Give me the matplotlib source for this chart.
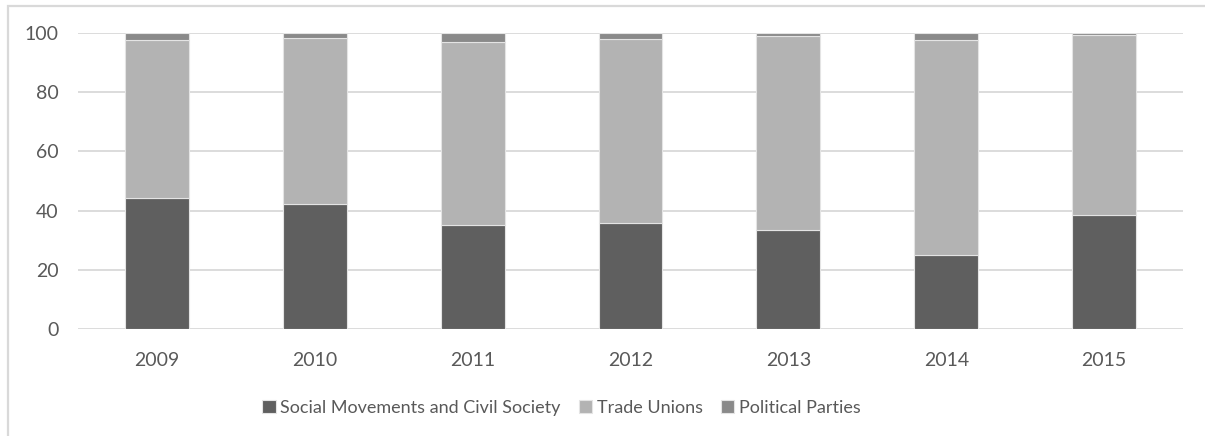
import numpy as np
import matplotlib.pyplot as plt
from matplotlib.patches import Rectangle

plt.rcParams['font.family'] = ['Lato', 'DejaVu Sans']

years = ['2009', '2010', '2011', '2012', '2013', '2014', '2015']
social = [44.1, 42.2, 35.0, 35.7, 33.3, 24.9, 38.5]
unions = [53.5, 56.2, 62.1, 62.4, 65.9, 72.7, 61.0]
parties = [2.4, 1.6, 2.9, 1.9, 0.8, 2.4, 0.5]

series = [
    ('Social Movements and Civil Society', social, '#5f5f5f'),
    ('Trade Unions', unions, '#b3b3b3'),
    ('Political Parties', parties, '#8a8a8a'),
]

fig = plt.figure(figsize=(12.05, 4.36), dpi=100)
ax = fig.add_axes([78 / 1205, 1 - 328.7 / 436, 1105 / 1205, 295.4 / 436])

x = np.arange(len(years))
bottom = np.zeros(len(years))
for name, vals, col in series:
    ax.bar(x, vals, 0.405, bottom=bottom, color=col, label=name,
           edgecolor='#e4e4e4', linewidth=0.8, zorder=3)
    bottom += np.array(vals)

ax.set_xlim(-0.5, len(years) - 0.5)
ax.set_ylim(0, 100)
ax.set_yticks(np.arange(0, 101, 20))
ax.set_xticks(x)
ax.set_xticklabels(years)
ax.grid(axis='y', color='#d9d9d9', linewidth=1.3, zorder=0)
for s in ax.spines.values():
    s.set_visible(False)
ax.tick_params(axis='both', length=0, labelsize=14, labelcolor='#595959')
ax.tick_params(axis='y', pad=14)
ax.tick_params(axis='x', pad=17)

# chart frame, running past the right and bottom edges
fig.patches.append(Rectangle((8 / 1205, -0.1), 1.2, 1.1 - 6 / 436,
                             transform=fig.transFigure, fill=False,
                             edgecolor='#d9d9d9', linewidth=1.6))

fig.legend(loc='center', bbox_to_anchor=(0.466, 1 - 408 / 436), ncol=3,
           frameon=False, fontsize=13, labelcolor='#595959',
           handlelength=0.75, handleheight=0.75, handletextpad=0.25,
           columnspacing=1.0)

fig.savefig('out.png', dpi=100)
